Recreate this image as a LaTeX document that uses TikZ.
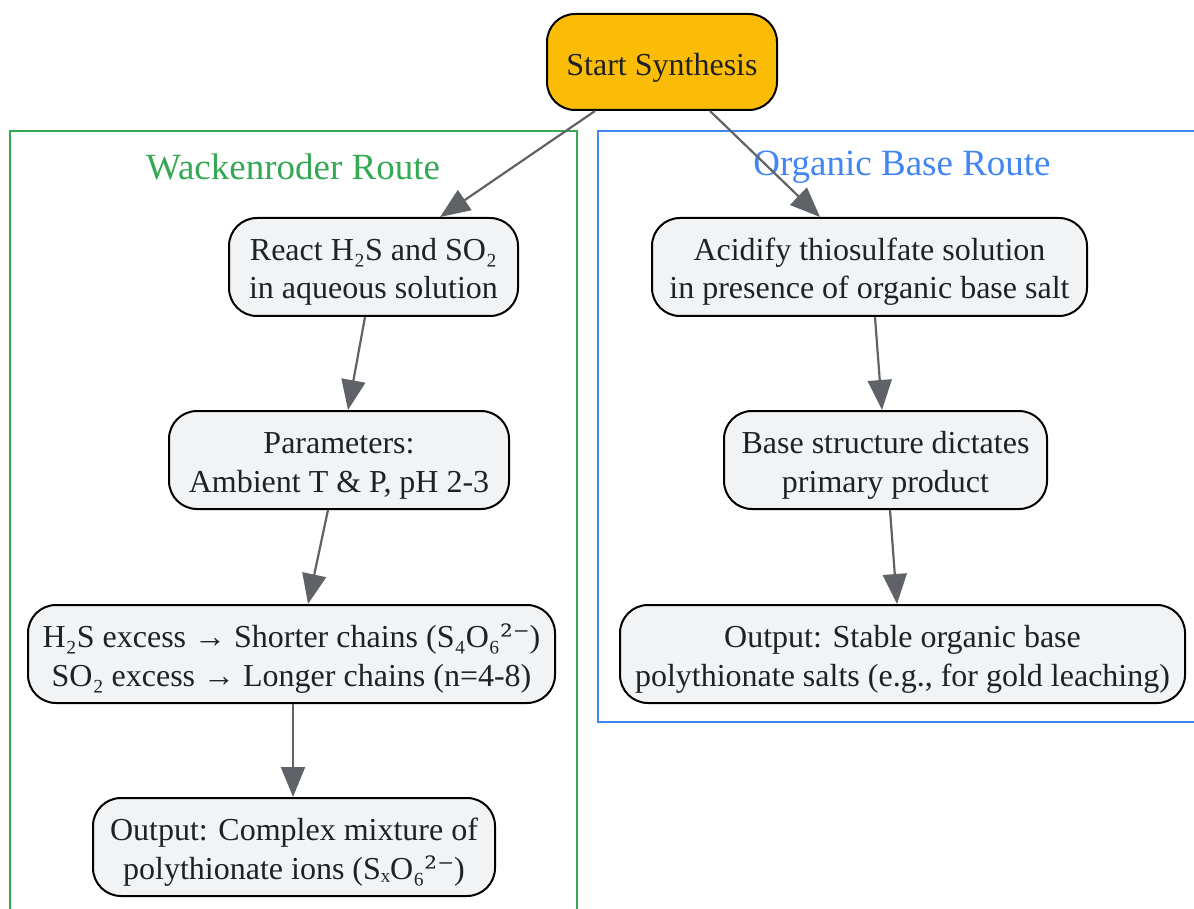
\documentclass[tikz,border=0pt]{standalone}
\usepackage{fontspec}
\setmainfont{Liberation Serif}
\newfontfamily\symfont{DejaVu Serif}
\usetikzlibrary{arrows.meta}
\definecolor{startfill}{HTML}{FBBC05}
\definecolor{stepfill}{HTML}{F1F3F4}
\definecolor{edgegray}{HTML}{5F6368}
\definecolor{txtgray}{HTML}{202124}
\definecolor{wackgreen}{HTML}{34A853}
\definecolor{orgblue}{HTML}{4285F4}
\begin{document}
\begin{tikzpicture}[x=1pt,y=-1pt,
    stepbox/.style={draw=black,line width=2pt,fill=stepfill,rounded corners=28pt,
        align=center,text=txtgray,inner sep=0pt,
        font=\fontsize{32}{38.5}\selectfont,
        text height=71pt,text depth=7pt},
    startbox/.style={stepbox,fill=startfill,text height=35pt},
    flow/.style={draw=edgegray,line width=2.2pt,-{Triangle[length=30pt,width=24pt]}},
    routetitle/.style={font=\fontsize{37}{42}\selectfont}]
    \useasboundingbox (0,0) rectangle (1194,909);

    % route frames
    \draw[wackgreen,line width=2pt] (10,920) -- (10,131) -- (577,131) -- (577,920);
    \draw[orgblue,line width=2pt] (1200,131) -- (598,131) -- (598,722) -- (1200,722);
    \node[routetitle,text=wackgreen] (wtitle) at (293,167) {Wackenroder Route};
    \node[routetitle,text=orgblue] (otitle) at (902,167) {Organic Base Route};

    \node[startbox,minimum width=230pt,minimum height=96pt] (start) at (662,62) {Start Synthesis};

    % Wackenroder route
    \node[stepbox,minimum width=289pt,minimum height=98pt] (react) at (373.5,267)
        {React H₂S and SO₂\\in aqueous solution};
    \node[stepbox,minimum width=340pt,minimum height=98pt] (param) at (339,460)
        {Parameters:\\Ambient T \& P, pH 2-3};
    \node[stepbox,minimum width=527pt,minimum height=98pt] (excess) at (291.5,654)
        {H₂S excess → Shorter chains (S₄O₆{\symfont ²⁻})\\SO₂ excess → Longer chains (n=4-8)};
    \node[stepbox,minimum width=402pt,minimum height=98pt] (mixture) at (294,847)
        {Output: Complex mixture of\\polythionate ions (SₓO₆{\symfont ²⁻})};

    % organic base route
    \node[stepbox,minimum width=435pt,minimum height=98pt] (acid) at (869.5,267)
        {Acidify thiosulfate solution\\in presence of organic base salt};
    \node[stepbox,minimum width=323pt,minimum height=98pt] (base) at (885.5,460)
        {Base structure dictates\\primary product};
    \node[stepbox,minimum width=565pt,minimum height=98pt] (salts) at (902.5,654)
        {Output: Stable organic base\\polythionate salts (e.g., for gold leaching)};

    \draw[flow] ([xshift=-67pt]start.south) -- ([xshift=66.5pt]react.north);
    \draw[flow] ([xshift=48pt]start.south) -- ([xshift=-49.5pt]acid.north);
    \draw[flow] ([xshift=-8.5pt]react.south) -- ([xshift=9pt]param.north);
    \draw[flow] ([xshift=-11pt]param.south) -- ([xshift=16.5pt]excess.north);
    \draw[flow] ([xshift=1.5pt]excess.south) -- ([xshift=-1pt]mixture.north);
    \draw[flow] ([xshift=5.5pt]acid.south) -- ([xshift=-3.5pt]base.north);
    \draw[flow] ([xshift=4.5pt]base.south) -- ([xshift=-5.5pt]salts.north);
\end{tikzpicture}
\end{document}
